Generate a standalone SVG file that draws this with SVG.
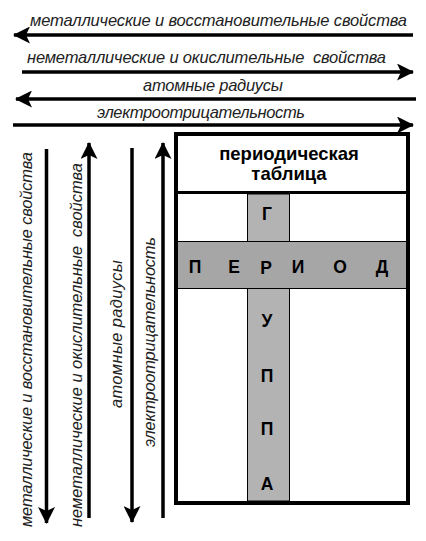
<svg xmlns="http://www.w3.org/2000/svg" width="426" height="541" viewBox="0 0 426 541">
<defs>
<marker id="ah" viewBox="0 0 17 17" refX="16" refY="8.5" markerWidth="17" markerHeight="17" markerUnits="userSpaceOnUse" orient="auto">
<path d="M0,0 L17,8.5 L0,17 L4,8.5 Z" fill="#000"/>
</marker>
</defs>
<style>
.ar{stroke:#000;stroke-width:3.5;fill:none;marker-end:url(#ah)}
.lbl{font-family:"Liberation Sans",Arial,sans-serif;font-style:italic;font-size:16.5px;fill:#222}
.big{font-family:"Liberation Sans",Arial,sans-serif;font-weight:bold;font-size:17.5px;fill:#000;text-anchor:middle}
.hdr{font-family:"Liberation Sans",Arial,sans-serif;font-weight:bold;font-size:18.5px;fill:#000;text-anchor:middle}
</style>
<rect width="426" height="541" fill="#fff"/>
<g id="connectors">
<line class="ar" x1="413" y1="35" x2="14" y2="35"/>
<line class="ar" x1="22" y1="72" x2="413" y2="72"/>
<line class="ar" x1="416" y1="99" x2="16" y2="99"/>
<line class="ar" x1="13" y1="125" x2="413" y2="125"/>
<line class="ar" x1="46.5" y1="149" x2="46.5" y2="523"/>
<line class="ar" x1="89" y1="518" x2="89" y2="143"/>
<line class="ar" x1="132" y1="148" x2="132" y2="522"/>
<line class="ar" x1="163" y1="518" x2="163" y2="143"/>
</g>
<g id="labels-h">
<text class="lbl" x="30" y="26" textLength="377" lengthAdjust="spacing">металлические и восстановительные свойства</text>
<text class="lbl" x="27" y="63" textLength="359" lengthAdjust="spacing" xml:space="preserve">неметаллические и окислительные  свойства</text>
<text class="lbl" x="143" y="91" textLength="140" lengthAdjust="spacing">атомные радиусы</text>
<text class="lbl" x="97" y="118" textLength="208" lengthAdjust="spacing">электроотрицательность</text>
</g>
<g id="labels-v">
<text class="lbl" transform="translate(32,527) rotate(-90)" textLength="375" lengthAdjust="spacing">металлические и восстановительные свойства</text>
<text class="lbl" transform="translate(82,527) rotate(-90)" textLength="364" lengthAdjust="spacing" xml:space="preserve">неметаллические и окислительные  свойства</text>
<text class="lbl" transform="translate(122,408) rotate(-90)" textLength="148" lengthAdjust="spacing">атомные радиусы</text>
<text class="lbl" transform="translate(155,447) rotate(-90)" textLength="210" lengthAdjust="spacing">электроотрицательность</text>
</g>
<g id="table">
<rect x="247.5" y="194" width="42" height="307" fill="#b3b3b3" stroke="#000" stroke-width="1"/>
<rect x="177" y="241.5" width="230" height="47" fill="#a6a6a6" stroke="#000" stroke-width="1"/>
<rect x="176" y="134" width="232" height="369" fill="none" stroke="#000" stroke-width="4"/>
<line x1="176" y1="192.5" x2="408" y2="192.5" stroke="#000" stroke-width="3"/>
<text class="hdr" x="289" y="160">периодическая</text>
<text class="hdr" x="289" y="180">таблица</text>
</g>
<g id="period">
<text class="big" x="195" y="273">П</text>
<text class="big" x="234" y="273">Е</text>
<text class="big" x="266" y="274">Р</text>
<text class="big" x="298" y="273">И</text>
<text class="big" x="340" y="273">О</text>
<text class="big" x="382" y="273">Д</text>
</g>
<g id="group">
<text class="big" x="267" y="220">Г</text>
<text class="big" x="267" y="327">У</text>
<text class="big" x="267" y="382">П</text>
<text class="big" x="267" y="435">П</text>
<text class="big" x="267" y="490">А</text>
</g>
</svg>
